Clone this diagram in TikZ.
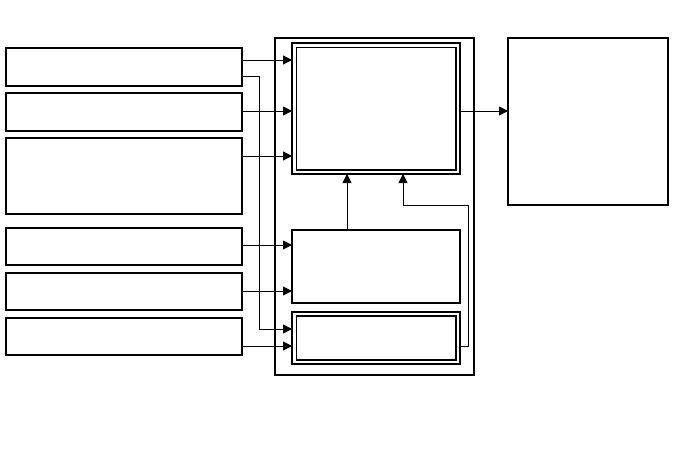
\documentclass[tikz,border=0pt]{standalone}
\usetikzlibrary{arrows.meta,fit}
\begin{document}
\begin{tikzpicture}[x=1pt,y=-1pt,
  box/.style={draw,line width=1.4pt,inner sep=0pt,outer sep=0pt},
  thinbox/.style={draw,line width=1.1pt,inner sep=0pt,outer sep=0pt},
  conn/.style={line width=0.9pt,-{Triangle[length=9pt,width=9pt]}},
  wire/.style={line width=0.9pt}]
\useasboundingbox (0,0) rectangle (688,463);
% left boxes
\node[box,fit={(6,48) (242,86)}] (b1) {};
\node[box,fit={(6,93) (242,131)}] (b2) {};
\node[box,fit={(6,138) (242,214)}] (b3) {};
\node[box,fit={(6,228) (242,265)}] (b4) {};
\node[box,fit={(6,273) (242,310)}] (b5) {};
\node[box,fit={(6,318) (242,355)}] (b6) {};
% container
\node[box,line width=1.3pt,fit={(275,38) (474,375)}] (cont) {};
% top double box
\node[thinbox,fit={(292,43) (460,174)}] (top) {};
\node[thinbox,fit={(296.5,47.5) (456,170)}] (topin) {};
% middle box
\node[thinbox,fit={(292,230) (460,303)}] (mid) {};
% bottom double box
\node[thinbox,fit={(292,312) (460,364)}] (bot) {};
\node[thinbox,fit={(296.5,316) (456,360)}] (botin) {};
% right box
\node[box,fit={(508,38) (668,205)}] (right) {};
% connectors
\draw[conn] (b1.east |- 0,60) -- (top.west |- 0,60);
\draw[conn] (b2.east |- 0,111) -- (top.west |- 0,111);
\draw[conn] (b3.east |- 0,156) -- (top.west |- 0,156);
\draw[conn] (b4.east |- 0,245) -- (mid.west |- 0,245);
\draw[conn] (b5.east |- 0,291) -- (mid.west |- 0,291);
\draw[conn] (b6.east |- 0,346) -- (bot.west |- 0,346);
\draw[conn] (b1.east |- 0,76) -- (259,76) -- (259,329) -- (bot.west |- 0,329);
\draw[conn] (top.east |- 0,111) -- (right.west |- 0,111);
\draw[conn] (mid.north -| 347,0) -- (top.south -| 347,0);
\draw[conn] (bot.east |- 0,346) -- (468,346) -- (468,205) -- (403,205) -- (top.south -| 403,0);
\end{tikzpicture}
\end{document}
